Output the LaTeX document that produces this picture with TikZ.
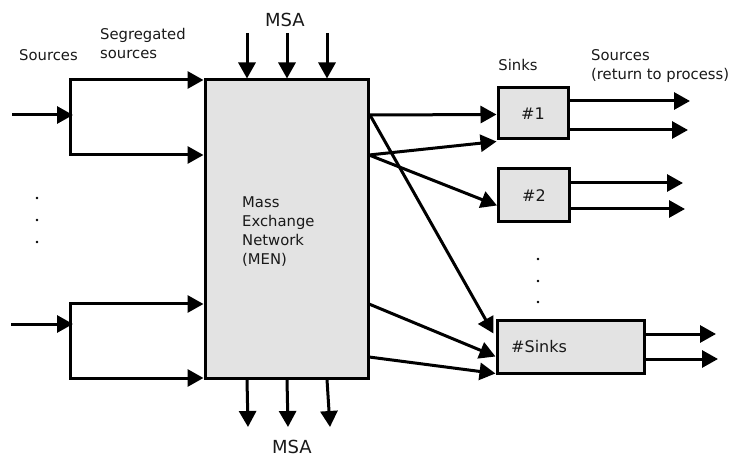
\documentclass[tikz,border=0pt]{standalone}
\usepackage{fontspec}
\setmainfont{DejaVu Sans}
\usetikzlibrary{arrows.meta,calc}
\definecolor{boxgray}{RGB}{227,227,227}
\definecolor{ink}{RGB}{25,25,25}
\begin{document}
\begin{tikzpicture}[x=1pt,y=-1pt,
  flow/.style={line width=3pt,-{Triangle[length=16pt,width=17pt]}},
  wire/.style={line width=3pt},
  block/.style={draw,line width=3pt,fill=boxgray,inner sep=0pt},
  lbl/.style={font=\fontsize{14.8}{19}\selectfont,align=left,text=ink,inner sep=0pt},
  big/.style={font=\fontsize{18}{20}\selectfont,text=ink,inner sep=0pt},
  sinklbl/.style={font=\fontsize{16}{18}\selectfont,text=ink,inner sep=0pt},
  dot/.style={fill=black,circle,inner sep=0pt,minimum size=2.6pt},
]
\useasboundingbox (0,0) rectangle (734,457);

% central mass exchange network
\node[block,minimum width=163pt,minimum height=298pt] (men) at (286.5,229) {};
\node[lbl,anchor=north west] (mentext) at (242,197) {Mass\\Exchange\\Network\\(MEN)};

% sinks
\node[block,minimum width=70pt,minimum height=51pt] (s1) at (533,113.5) {};
\node[sinklbl] (s1t) at (s1) {\#1};
\node[block,minimum width=71pt,minimum height=53pt] (s2) at (534,195.5) {};
\node[sinklbl] (s2t) at (s2) {\#2};
\node[block,minimum width=147pt,minimum height=53pt] (sn) at (570.5,346.5) {};
\node[sinklbl,anchor=west] (snt) at (511,347) {\#Sinks};

% labels
\node[big] (msatop) at (285,20) {MSA};
\node[big] (msabot) at (292,447) {MSA};
\node[lbl,anchor=west] (srclbl) at (19,55) {Sources};
\node[lbl,anchor=west] (seglbl) at (100,43.5) {Segregated\\sources};
\node[lbl] (sinkslbl) at (518,65) {Sinks};
\node[lbl,anchor=west] (retlbl) at (591,66.5) {Sources\\(return to process)};

% sources split into segregated streams
\coordinate (src1) at (12,115);
\coordinate (br1) at (73,115);
\draw[flow] (src1) -- (br1);
\draw[flow] (70,155) |- (men.west |- 0,80);
\draw[flow] (70,80) |- (men.west |- 0,155);

\coordinate (src2) at (11,324);
\coordinate (br2) at (73,324);
\draw[flow] (src2) -- (br2);
\draw[flow] (70,378) |- (men.west |- 0,304);
\draw[flow] (70,304) |- (men.west |- 0,378);

% mass separating agents in and out
\foreach \x in {247,287,327}{
  \coordinate (msa\x) at (\x,33);
  \draw[flow] (msa\x) -- (men.north -| \x,0);
}
\coordinate (out1) at (248,427);
\coordinate (out2) at (288,427);
\coordinate (out3) at (330,427);
\draw[flow] (men.south -| 247,0) -- (out1);
\draw[flow] (men.south -| 287,0) -- (out2);
\draw[flow] (men.south -| 327,0) -- (out3);

% streams from the network to the sinks
\coordinate (m1) at (370,115);
\coordinate (m2) at (369,155);
\coordinate (m3) at (369,304);
\coordinate (m4) at (369,357);
\draw[flow] (m1) -- ($(s1.west)+(0,1)$);
\draw[flow] (m2) -- ($(s1.south west)+(0,1)$);
\draw[flow] (m2) -- ($(s2.west)+(0,10)$);
\draw[flow] (m1) -- ($(sn.west)+(-2,-13)$);
\draw[flow] (m3) -- ($(sn.west)+(0,10)$);
\draw[flow] (m4) -- ($(sn.south west)+(0,-1)$);

% streams returned to the process
\coordinate (r1a) at (690,101);
\coordinate (r1b) at (688,130);
\coordinate (r2a) at (683,183);
\coordinate (r2b) at (685,209);
\coordinate (r3a) at (716,334);
\coordinate (r3b) at (718,359);
\draw[flow] (s1.east |- r1a) -- (r1a);
\draw[flow] (s1.east |- r1b) -- (r1b);
\draw[flow] (s2.east |- r2a) -- (r2a);
\draw[flow] (s2.east |- r2b) -- (r2b);
\draw[flow] (sn.east |- r3a) -- (r3a);
\draw[flow] (sn.east |- r3b) -- (r3b);

% ellipsis dots
\foreach \y/\n in {198/a,220/b,242/c}{ \node[dot] (ld\n) at (37,\y) {}; }
\foreach \y/\n in {259/a,281/b,302/c}{ \node[dot] (md\n) at (538,\y) {}; }
\end{tikzpicture}
\end{document}
